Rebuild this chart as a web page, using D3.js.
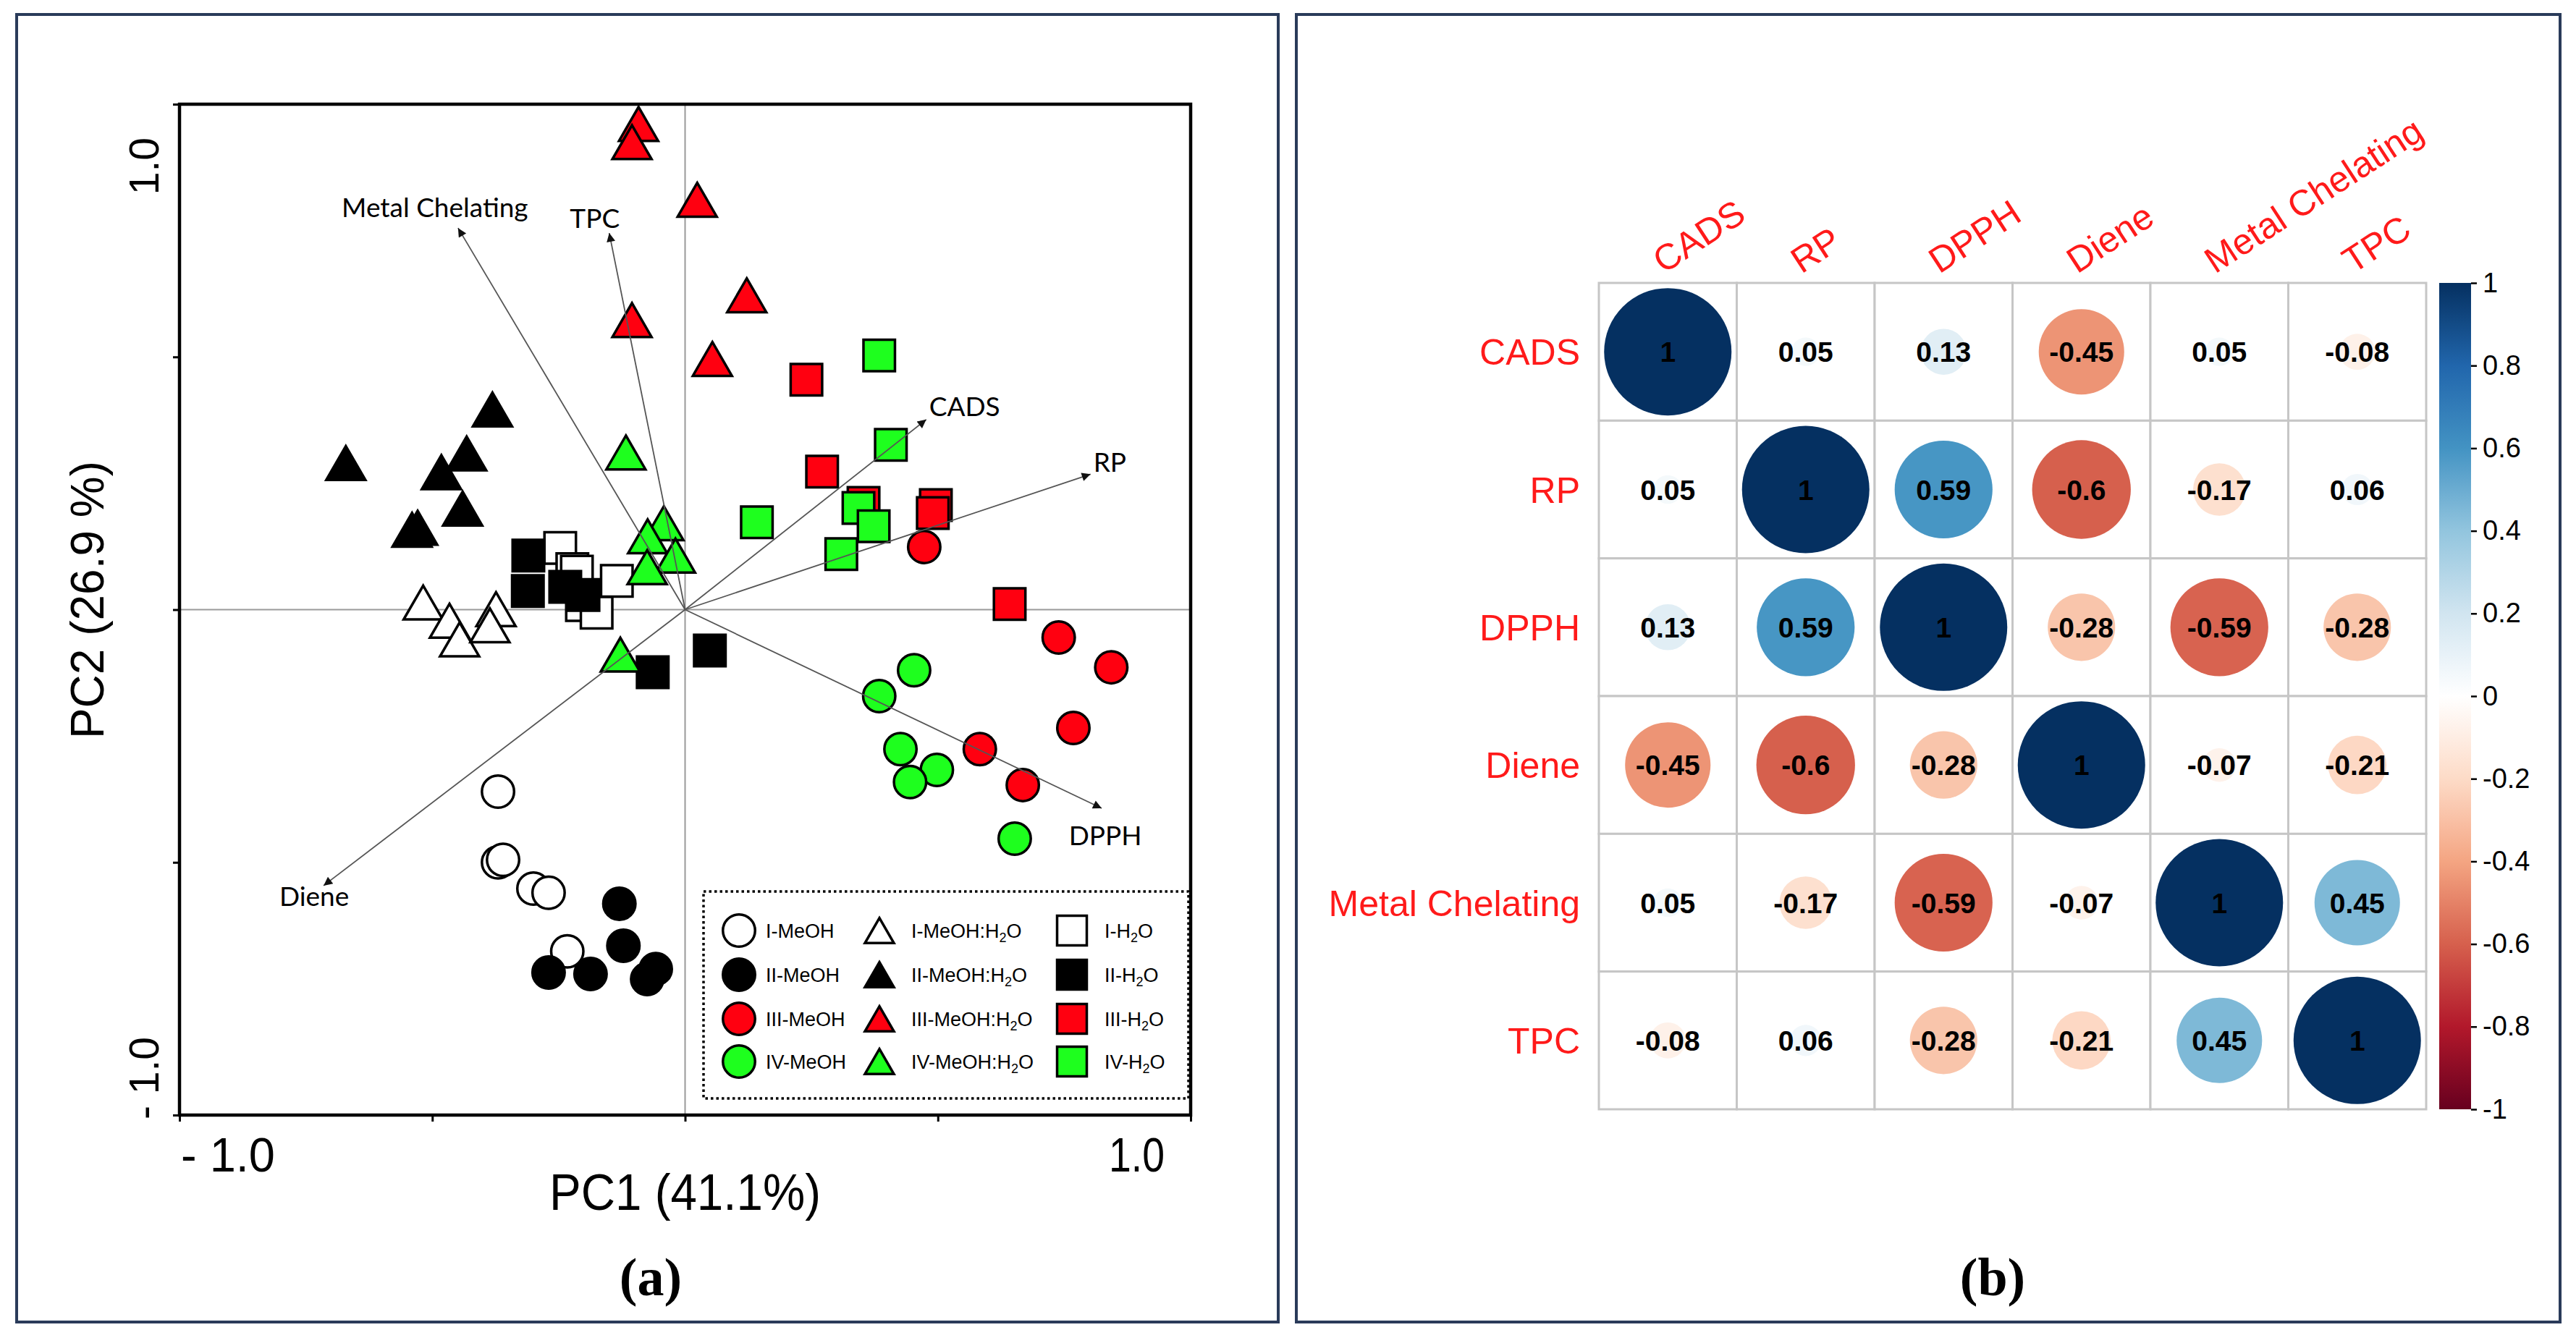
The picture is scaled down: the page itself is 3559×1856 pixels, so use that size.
<!DOCTYPE html>
<html><head><meta charset="utf-8">
<script src="https://cdn.jsdelivr.net/npm/d3@7"></script>
<style>body{margin:0;background:#fff} svg{display:block}</style>
</head><body>
<svg id="chart" width="3559" height="1856"></svg>
<script>
// ================= DATA : panel (a) PCA biplot =================
const I_MeOH      = [[-0.37,-0.36],[-0.37,-0.50],[-0.36,-0.495],[-0.30,-0.552],[-0.27,-0.56],[-0.233,-0.676]];
const II_MeOH     = [[-0.13,-0.582],[-0.122,-0.665],[-0.27,-0.718],[-0.187,-0.721],[-0.058,-0.711],[-0.075,-0.731]];
const III_MeOH    = [[0.473,0.124],[0.739,-0.055],[0.843,-0.114],[0.768,-0.234],[0.583,-0.276],[0.668,-0.347]];
const IV_MeOH     = [[0.453,-0.120],[0.384,-0.171],[0.426,-0.276],[0.498,-0.317],[0.445,-0.341],[0.652,-0.453]];
const I_MeOH_H2O  = [[-0.518,0.014],[-0.466,-0.022],[-0.446,-0.059],[-0.374,0.001],[-0.386,-0.031]];
const II_MeOH_H2O = [[-0.381,0.396],[-0.671,0.290],[-0.432,0.309],[-0.482,0.272],[-0.440,0.200],[-0.529,0.162],[-0.540,0.158]];
const III_MeOH_H2O= [[-0.092,0.961],[-0.105,0.925],[0.024,0.811],[-0.105,0.573],[0.122,0.622],[0.054,0.496]];
const IV_MeOH_H2O = [[-0.117,0.311],[-0.042,0.171],[-0.074,0.145],[-0.019,0.107],[-0.075,0.084],[-0.128,-0.089]];
const I_H2O       = [[-0.247,0.122],[-0.223,0.080],[-0.214,0.075],[-0.135,0.057],[-0.204,0.009],[-0.175,-0.006]];
const II_H2O      = [[-0.310,0.107],[-0.311,0.037],[-0.237,0.045],[-0.201,0.029],[-0.064,-0.124],[0.049,-0.081]];
const III_H2O     = [[0.240,0.455],[0.271,0.273],[0.353,0.211],[0.496,0.207],[0.490,0.191],[0.642,0.011]];
const IV_H2O      = [[0.384,0.503],[0.407,0.326],[0.142,0.173],[0.343,0.201],[0.373,0.165],[0.309,0.110]];

const loadingNames = ["Metal Chelating","TPC","CADS","RP","DPPH","Diene"];
const loadingPC1   = [-0.449,-0.150,0.477,0.802,0.824,-0.715];
const loadingPC2   = [0.755,0.745,0.376,0.268,-0.393,-0.546];

const axisTicks     = [-1,-0.5,0,0.5,1];
const axisEndLabels = ["- 1.0","1.0"];
const xTitle = "PC1 (41.1%)";
const yTitle = "PC2 (26.9 %)";

// ================= DATA : panel (b) correlation matrix =================
const corrVars = ["CADS","RP","DPPH","Diene","Metal Chelating","TPC"];
const rowCADS  = [1,0.05,0.13,-0.45,0.05,-0.08];
const rowRP    = [0.05,1,0.59,-0.6,-0.17,0.06];
const rowDPPH  = [0.13,0.59,1,-0.28,-0.59,-0.28];
const rowDiene = [-0.45,-0.6,-0.28,1,-0.07,-0.21];
const rowMC    = [0.05,-0.17,-0.59,-0.07,1,0.45];
const rowTPC   = [-0.08,0.06,-0.28,-0.21,0.45,1];
const colorbarTicks = [1,0.8,0.6,0.4,0.2,0,-0.2,-0.4,-0.6,-0.8,-1];
const rdbuColors = ["#67001F","#B2182B","#D6604D","#F4A582","#FDDBC7","#FFFFFF","#D1E5F0","#92C5DE","#4393C3","#2166AC","#053061"];

// ================= STYLE / LAYOUT =================
const RED = "#ff0010", GREEN = "#1eff1e";
const groups = [
  {name:"I-H2O",        data:I_H2O,        shape:"square",   fill:"#ffffff"},
  {name:"II-H2O",       data:II_H2O,       shape:"square",   fill:"#000000"},
  {name:"III-H2O",      data:III_H2O,      shape:"square",   fill:RED},
  {name:"IV-H2O",       data:IV_H2O,       shape:"square",   fill:GREEN},
  {name:"I-MeOH",       data:I_MeOH,       shape:"circle",   fill:"#ffffff"},
  {name:"II-MeOH",      data:II_MeOH,      shape:"circle",   fill:"#000000"},
  {name:"III-MeOH",     data:III_MeOH,     shape:"circle",   fill:RED},
  {name:"IV-MeOH",      data:IV_MeOH,      shape:"circle",   fill:GREEN},
  {name:"I-MeOH:H2O",   data:I_MeOH_H2O,   shape:"triangle", fill:"#ffffff"},
  {name:"II-MeOH:H2O",  data:II_MeOH_H2O,  shape:"triangle", fill:"#000000"},
  {name:"III-MeOH:H2O", data:III_MeOH_H2O, shape:"triangle", fill:RED},
  {name:"IV-MeOH:H2O",  data:IV_MeOH_H2O,  shape:"triangle", fill:GREEN}
];
const legendOrder = [
  ["I-MeOH","I-MeOH:H2O","I-H2O"],
  ["II-MeOH","II-MeOH:H2O","II-H2O"],
  ["III-MeOH","III-MeOH:H2O","III-H2O"],
  ["IV-MeOH","IV-MeOH:H2O","IV-H2O"]
];
// label offsets (px) from loading arrow tip
const loadLabelPos = {
  "Metal Chelating":{dx:-32,dy:-15,anchor:"middle"},
  "TPC":{dx:-20,dy:-7,anchor:"middle"},
  "CADS":{dx:4,dy:-5,anchor:"start"},
  "RP":{dx:4,dy:-3,anchor:"start"},
  "DPPH":{dx:5,dy:51,anchor:"middle"},
  "Diene":{dx:-13,dy:28,anchor:"middle"}
};

const triangleUp = { draw(ctx, size){
  const w = Math.sqrt(size*4/Math.sqrt(3)), h = w*Math.sqrt(3)/2;
  ctx.moveTo(0,-h/2); ctx.lineTo(w/2,h/2); ctx.lineTo(-w/2,h/2); ctx.closePath();
}};
const shapeType = {circle:d3.symbolCircle, square:d3.symbolSquare, triangle:triangleUp};
const shapeSize = {circle:1555, square:1892, triangle:1263};
const legendSize = {circle:1555, square:1681, triangle:693};

const svg = d3.select("#chart");
const SANS = "'Liberation Sans', Arial, sans-serif";

// panel frames
[[23,20,1743,1807],[1791,20,1746,1807]].forEach(([x,y,w,h])=>{
  svg.append("rect").attr("x",x).attr("y",y).attr("width",w).attr("height",h)
    .attr("fill","none").attr("stroke","#2a3b5a").attr("stroke-width",4);
});

// ================= PANEL (a) =================
const x = d3.scaleLinear().domain([-1,1]).range([248,1645]);
const y = d3.scaleLinear().domain([-1,1]).range([1541,144]);
const ga = svg.append("g");

// zero lines
ga.append("line").attr("x1",x(-1)).attr("x2",x(1)).attr("y1",y(0)).attr("y2",y(0))
  .attr("stroke","#9a9a9a").attr("stroke-width",2);
ga.append("line").attr("x1",x(0)).attr("x2",x(0)).attr("y1",y(-1)).attr("y2",y(1))
  .attr("stroke","#9a9a9a").attr("stroke-width",2);

// axes (ticks only)
const xAxis = ga.append("g").attr("transform",`translate(0,${y(-1)})`)
  .call(d3.axisBottom(x).tickValues(axisTicks).tickSize(9).tickFormat(""));
const yAxis = ga.append("g").attr("transform",`translate(${x(-1)},0)`)
  .call(d3.axisLeft(y).tickValues(axisTicks).tickSize(9).tickFormat(""));
[xAxis,yAxis].forEach(a=>{a.select(".domain").remove(); a.selectAll("line").attr("stroke","#000").attr("stroke-width",3);});

// markers
groups.forEach(g=>{
  const sym = d3.symbol().type(shapeType[g.shape]).size(shapeSize[g.shape]);
  ga.append("g").selectAll("path").data(g.data).join("path")
    .attr("d",sym)
    .attr("transform",d=>`translate(${x(d[0])},${y(d[1])})`)
    .attr("fill",g.fill).attr("stroke","#000").attr("stroke-width",3.5);
});

// loading arrows
const defs = svg.append("defs");
defs.append("marker").attr("id","arr").attr("viewBox","0 0 10 10").attr("refX",10).attr("refY",5)
  .attr("markerWidth",16).attr("markerHeight",12).attr("markerUnits","userSpaceOnUse")
  .attr("orient","auto").append("path").attr("d","M0,0L10,5L0,10z").attr("fill","#111");
loadingNames.forEach((n,i)=>{
  const tx = x(loadingPC1[i]), ty = y(loadingPC2[i]);
  ga.append("line").attr("x1",x(0)).attr("y1",y(0)).attr("x2",tx).attr("y2",ty)
    .attr("stroke","#555").attr("stroke-width",1.8).attr("marker-end","url(#arr)");
  const p = loadLabelPos[n];
  ga.append("text").attr("x",tx+p.dx).attr("y",ty+p.dy).attr("text-anchor",p.anchor)
    .attr("font-family","Lato, 'Open Sans', sans-serif").attr("font-size",37).attr("fill","#000").text(n);
});

// plot frame
ga.append("rect").attr("x",x(-1)).attr("y",y(1)).attr("width",x(1)-x(-1)).attr("height",y(-1)-y(1))
  .attr("fill","none").attr("stroke","#000").attr("stroke-width",4.5);

// axis end labels
ga.append("text").attr("x",x(-1)+2).attr("y",1619).attr("font-family",SANS).attr("font-size",66)
  .attr("textLength",130).attr("lengthAdjust","spacingAndGlyphs").text(axisEndLabels[0]);
ga.append("text").attr("x",x(1)-36).attr("y",1619).attr("text-anchor","end").attr("font-family",SANS).attr("font-size",66)
  .attr("textLength",77).attr("lengthAdjust","spacingAndGlyphs").text(axisEndLabels[1]);
ga.append("text").attr("transform","translate(219,190) rotate(-90)").attr("text-anchor","end")
  .attr("font-family",SANS).attr("font-size",57).text(axisEndLabels[1]);
ga.append("text").attr("transform",`translate(219,${y(-1)+6}) rotate(-90)`).attr("text-anchor","start")
  .attr("font-family",SANS).attr("font-size",57).text(axisEndLabels[0]);
// titles
ga.append("text").attr("x",(x(-1)+x(1))/2).attr("y",1672).attr("text-anchor","middle")
  .attr("font-family",SANS).attr("font-size",70).attr("textLength",375).attr("lengthAdjust","spacingAndGlyphs").text(xTitle);
ga.append("text").attr("transform","translate(143,829) rotate(-90)").attr("text-anchor","middle")
  .attr("font-family",SANS).attr("font-size",64).text(yTitle);

// legend
const lg = ga.append("g");
lg.append("rect").attr("x",972).attr("y",1232).attr("width",670).attr("height",286)
  .attr("fill","#fff").attr("stroke","#000").attr("stroke-width",3.5).attr("stroke-dasharray","3.5,4");
const legColX = [1021,1215,1481], legTextX = [1058,1259,1526], legRowY = [1286,1347,1408,1467];
legendOrder.forEach((row,ri)=>{
  row.forEach((nm,ci)=>{
    const g = groups.find(d=>d.name===nm);
    lg.append("path").attr("d",d3.symbol().type(shapeType[g.shape]).size(legendSize[g.shape]))
      .attr("transform",`translate(${legColX[ci]},${legRowY[ri]})`)
      .attr("fill",g.fill).attr("stroke","#000").attr("stroke-width",3.5);
    const t = lg.append("text").attr("x",legTextX[ci]).attr("y",legRowY[ri]+10)
      .attr("font-family",SANS).attr("font-size",27).attr("fill","#000");
    const parts = nm.split("H2O");
    if(parts.length>1){
      t.append("tspan").text(parts[0]+"H");
      t.append("tspan").attr("font-size",18).attr("dy",6).text("2");
      t.append("tspan").attr("dy",-6).text("O");
    } else t.text(nm);
  });
});

// panel label
svg.append("text").attr("x",899).attr("y",1790).attr("text-anchor","middle")
  .attr("font-family","'Liberation Serif', 'DejaVu Serif', serif").attr("font-weight","bold").attr("font-size",74).text("(a)");

// ================= PANEL (b) =================
const corrRows = [rowCADS,rowRP,rowDPPH,rowDiene,rowMC,rowTPC];
const cells = [];
corrRows.forEach((r,i)=>r.forEach((v,j)=>cells.push({row:corrVars[i],col:corrVars[j],v})));
const cx = d3.scaleBand().domain(corrVars).range([2209,3352]);
const cy = d3.scaleBand().domain(corrVars).range([391,1533]);
const color = d3.scaleLinear().domain(d3.range(11).map(i=>-1+i*0.2)).range(rdbuColors).interpolate(d3.interpolateRgb);
const rad = d3.scaleSqrt().domain([0,1]).range([0,88]);
const gb = svg.append("g");

// grid
gb.append("g").selectAll("rect").data(cells).join("rect")
  .attr("x",d=>cx(d.col)).attr("y",d=>cy(d.row)).attr("width",cx.bandwidth()).attr("height",cy.bandwidth())
  .attr("fill","#fff").attr("stroke","#c6c6c6").attr("stroke-width",3);
// circles
gb.append("g").selectAll("circle").data(cells).join("circle")
  .attr("cx",d=>cx(d.col)+cx.bandwidth()/2).attr("cy",d=>cy(d.row)+cy.bandwidth()/2)
  .attr("r",d=>rad(Math.abs(d.v))).attr("fill",d=>color(d.v));
// values
gb.append("g").selectAll("text").data(cells).join("text")
  .attr("x",d=>cx(d.col)+cx.bandwidth()/2).attr("y",d=>cy(d.row)+cy.bandwidth()/2+14)
  .attr("text-anchor","middle").attr("font-family",SANS).attr("font-weight","bold").attr("font-size",39)
  .attr("fill","#000").text(d=>String(d.v));
// row labels
gb.append("g").selectAll("text").data(corrVars).join("text")
  .attr("x",2183).attr("y",d=>cy(d)+cy.bandwidth()/2+18).attr("text-anchor","end")
  .attr("font-family",SANS).attr("font-size",50).attr("fill","#ff1a1a").text(d=>d);
// column labels
gb.append("g").selectAll("text").data(corrVars).join("text")
  .attr("transform",d=>`translate(${cx(d)+cx.bandwidth()/2-6},379) rotate(-33)`)
  .attr("font-family",SANS).attr("font-size",50).attr("fill","#ff1a1a").text(d=>d);

// colorbar
const cbY = d3.scaleLinear().domain([-1,1]).range([1533,391]);
const grad = defs.append("linearGradient").attr("id","cbg").attr("x1",0).attr("y1",1).attr("x2",0).attr("y2",0);
d3.range(0,1.0001,0.05).forEach(t=>grad.append("stop").attr("offset",t).attr("stop-color",color(-1+2*t)));
gb.append("rect").attr("x",3370).attr("y",391).attr("width",44).attr("height",1142).attr("fill","url(#cbg)");
const cbAxis = gb.append("g").attr("transform","translate(3414,0)")
  .call(d3.axisRight(cbY).tickValues(colorbarTicks).tickSize(8).tickPadding(8).tickFormat(d=>String(d)));
cbAxis.select(".domain").remove();
cbAxis.selectAll("line").attr("stroke","#000").attr("stroke-width",2.5);
cbAxis.selectAll("text").attr("font-family",SANS).attr("font-size",38).attr("fill","#000");

svg.append("text").attr("x",2753).attr("y",1790).attr("text-anchor","middle")
  .attr("font-family","'Liberation Serif', 'DejaVu Serif', serif").attr("font-weight","bold").attr("font-size",74).text("(b)");
</script>
</body></html>
